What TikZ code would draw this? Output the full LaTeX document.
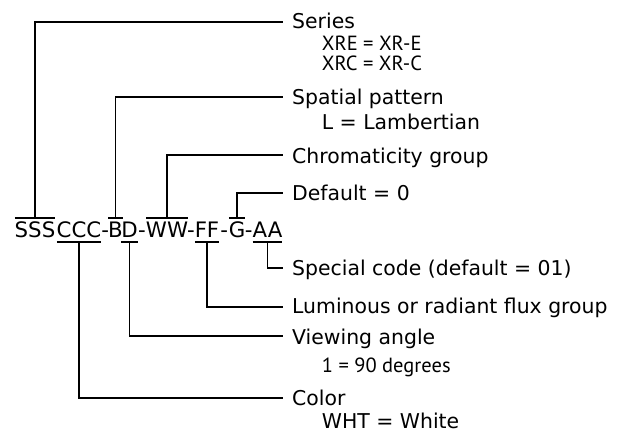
\documentclass[tikz,border=0pt]{standalone}
\usepackage{fontspec}
\setmainfont{DejaVu Sans}
\newfontfamily\smallfont{PT Sans}
\begin{document}
\begin{tikzpicture}[x=1pt,y=-1pt,
  code/.style={inner sep=0pt, anchor=base, font=\fontsize{21.3}{25}\selectfont},
  lab/.style={inner sep=0pt, anchor=base west, font=\fontsize{20.4}{24}\selectfont},
  sublab/.style={inner sep=0pt, anchor=base west, font=\smallfont\fontsize{20.5}{24}\selectfont},
  ln/.style={line width=1.7pt},
  bar/.style={line width=1.7pt, shorten <=0.3pt, shorten >=0.3pt}]
\useasboundingbox (0,0) rectangle (626,433);
% code
\node[code] (S) at (35,237.3) {SSS};
\node[code] (C) at (79,237.3) {CCC};
\node[code] (h1) at (105.3,237.3) {-};
\node[code] (B) at (115.5,237.3) {B};
\node[code] (D) at (129.5,237.3) {D};
\node[code] (h2) at (141.9,237.3) {-};
\node[code] (W) at (167,237.3) {WW};
\node[code] (h3) at (191,237.3) {-};
\node[code] (F) at (207,237.3) {FF};
\node[code] (h4) at (224.3,237.3) {-};
\node[code] (G) at (237,237.3) {G};
\node[code] (h5) at (248.6,237.3) {-};
\node[code] (A) at (267.5,237.3) {AA};
\coordinate (ob) at (0,218.3);
\coordinate (ub) at (0,241.7);
% bars
\foreach \n in {S,B,W,G} \draw[bar] (\n.west |- ob) -- (\n.east |- ob);
\foreach \n in {C,D,F,A} \draw[bar] (\n.west |- ub) -- (\n.east |- ub);
% end coordinates
\coordinate (eSer) at (283,22);
\coordinate (eSpa) at (283,97.3);
\coordinate (eChr) at (283,155.3);
\coordinate (eDef) at (283,192.7);
\coordinate (eSpe) at (283,267.7);
\coordinate (eLum) at (283,306.7);
\coordinate (eVie) at (283,335.7);
\coordinate (eCol) at (283,397.7);
% connectors
\draw[ln] (S.center |- ob) -- (S.center |- eSer) -- (eSer);
\draw[ln] (B.center |- ob) -- (B.center |- eSpa) -- (eSpa);
\draw[ln] (W.center |- ob) -- (W.center |- eChr) -- (eChr);
\draw[ln] (G.center |- ob) -- (G.center |- eDef) -- (eDef);
\draw[ln] (A.center |- ub) -- (A.center |- eSpe) -- (eSpe);
\draw[ln] (F.center |- ub) -- (F.center |- eLum) -- (eLum);
\draw[ln] (D.center |- ub) -- (D.center |- eVie) -- (eVie);
\draw[ln] (C.center |- ub) -- (C.center |- eCol) -- (eCol);
% labels
\node[lab] (lSer) at (292,28.3) {Series};
\node[sublab] (lXRE) at (321.7,50.5) {XRE = XR-E};
\node[sublab] (lXRC) at (321.7,70.5) {XRC = XR-C};
\node[lab] (lSpa) at (292,104.3) {Spatial pattern};
\node[lab] (lLam) at (321.7,129) {L = Lambertian};
\node[lab] (lChr) at (292,163.5) {Chromaticity group};
\node[lab] (lDef) at (292,200.3) {Default = 0};
\node[lab] (lSpe) at (292,275.5) {Special code (default = 01)};
\node[lab] (lLum) at (292,313.5) {Luminous or radiant flux group};
\node[lab] (lVie) at (292,344) {Viewing angle};
\node[sublab] (lDeg) at (321.7,372.3) {1 = 90 degrees};
\node[lab] (lCol) at (292,405) {Color};
\node[lab] (lWht) at (321.7,428.3) {WHT = White};
\end{tikzpicture}
\end{document}
